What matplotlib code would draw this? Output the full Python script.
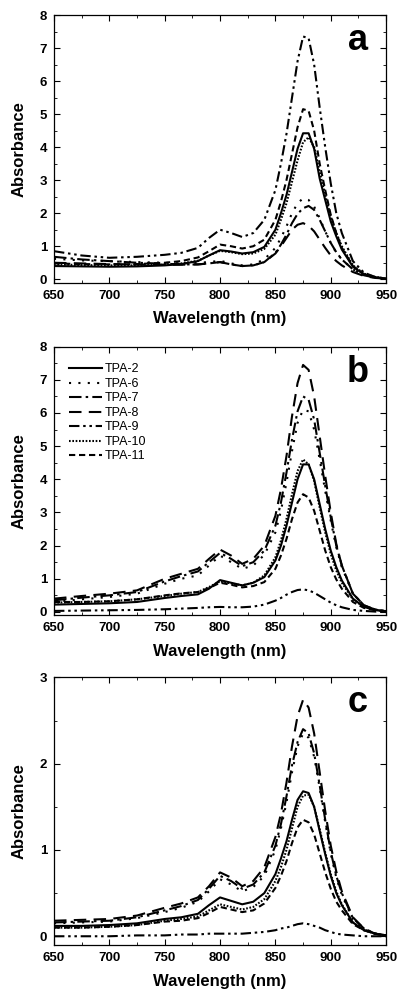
import matplotlib
matplotlib.use("Agg")
import matplotlib.pyplot as plt
from matplotlib.ticker import MultipleLocator

plt.rcParams.update({
    "font.family": ["Liberation Sans", "DejaVu Sans"],
    "font.size": 9,
    "xtick.direction": "in",
    "ytick.direction": "in",
    "xtick.top": True,
    "ytick.right": True,
    "xtick.major.size": 4,
    "ytick.major.size": 4,
    "xtick.minor.size": 2,
    "ytick.minor.size": 2,
    "axes.linewidth": 0.9,
})

wavelength = [650, 675, 700, 725, 750, 765, 780, 790, 800, 810, 820, 830, 840, 850, 855,
              860, 865, 870, 875, 880, 885, 890, 895, 900, 905, 910, 920, 930, 940, 950]

labels = ["TPA-2", "TPA-6", "TPA-7", "TPA-8", "TPA-9", "TPA-10", "TPA-11"]

# panel a
a_tpa2 = [0.40, 0.39, 0.38, 0.39, 0.42, 0.46, 0.55, 0.72, 0.88, 0.84, 0.78, 0.82, 0.98, 1.5, 2.0,
          2.55, 3.25, 3.95, 4.42, 4.42, 3.95, 3.05, 2.4, 1.75, 1.3, 0.9, 0.38, 0.15, 0.06, 0.02]
a_tpa6 = [0.62, 0.57, 0.55, 0.52, 0.5, 0.48, 0.5, 0.52, 0.56, 0.48, 0.42, 0.45, 0.6, 0.95, 1.25,
          1.6, 2.0, 2.3, 2.45, 2.4, 2.2, 1.85, 1.45, 1.1, 0.8, 0.6, 0.3, 0.12, 0.05, 0.02]
a_tpa7 = [0.68, 0.6, 0.55, 0.5, 0.47, 0.45, 0.45, 0.48, 0.52, 0.45, 0.4, 0.42, 0.52, 0.8, 1.05,
          1.35, 1.7, 1.98, 2.15, 2.22, 2.1, 1.8, 1.45, 1.1, 0.82, 0.6, 0.3, 0.12, 0.05, 0.02]
a_tpa8 = [0.5, 0.48, 0.46, 0.45, 0.44, 0.44, 0.45, 0.48, 0.52, 0.45, 0.4, 0.42, 0.52, 0.78, 1.0,
          1.25, 1.5, 1.65, 1.7, 1.62, 1.45, 1.2, 0.95, 0.72, 0.55, 0.42, 0.22, 0.1, 0.04, 0.02]
a_tpa9 = [0.85, 0.72, 0.65, 0.68, 0.74, 0.8, 0.95, 1.25, 1.5, 1.4, 1.28, 1.4, 1.8, 2.7, 3.5,
          4.4, 5.5, 6.6, 7.35, 7.3, 6.5, 5.2, 4.0, 2.9, 2.0, 1.4, 0.55, 0.2, 0.07, 0.02]
a_tpa10 = [0.45, 0.43, 0.42, 0.42, 0.44, 0.48, 0.56, 0.72, 0.86, 0.82, 0.76, 0.78, 0.92, 1.35, 1.8,
           2.3, 2.95, 3.6, 4.15, 4.3, 4.0, 3.25, 2.55, 1.9, 1.4, 1.0, 0.42, 0.17, 0.07, 0.02]
a_tpa11 = [0.48, 0.46, 0.45, 0.46, 0.5, 0.55, 0.66, 0.85, 1.05, 1.0, 0.93, 1.0, 1.2, 1.8, 2.35,
           3.0, 3.8, 4.6, 5.15, 5.1, 4.5, 3.5, 2.7, 1.95, 1.4, 0.95, 0.4, 0.15, 0.06, 0.02]

# panel b
b_tpa2 = [0.22, 0.24, 0.26, 0.3, 0.42, 0.48, 0.53, 0.7, 0.96, 0.88, 0.8, 0.88, 1.05, 1.55, 2.0,
          2.6, 3.3, 4.0, 4.45, 4.45, 4.0, 3.25, 2.5, 1.85, 1.35, 0.95, 0.4, 0.15, 0.06, 0.02]
b_tpa6 = [0.3, 0.38, 0.45, 0.55, 0.85, 1.0, 1.1, 1.4, 1.7, 1.5, 1.3, 1.4, 1.72, 2.4, 3.05,
          3.9, 4.85, 5.7, 6.1, 6.05, 5.5, 4.6, 3.65, 2.75, 1.95, 1.35, 0.55, 0.2, 0.07, 0.02]
b_tpa7 = [0.35, 0.43, 0.5, 0.6, 0.92, 1.08, 1.22, 1.5, 1.78, 1.6, 1.38, 1.5, 1.85, 2.6, 3.3,
          4.2, 5.2, 6.05, 6.5, 6.4, 5.8, 4.8, 3.8, 2.85, 2.0, 1.4, 0.55, 0.2, 0.07, 0.02]
b_tpa8 = [0.40, 0.48, 0.55, 0.65, 1.0, 1.15, 1.3, 1.6, 1.88, 1.7, 1.45, 1.6, 2.0, 2.9, 3.7,
          4.7, 5.9, 6.9, 7.45, 7.3, 6.5, 5.3, 4.1, 3.0, 2.05, 1.4, 0.55, 0.2, 0.07, 0.02]
b_tpa9 = [0.03, 0.04, 0.05, 0.06, 0.08, 0.1, 0.12, 0.14, 0.15, 0.14, 0.14, 0.16, 0.22, 0.34, 0.42,
          0.52, 0.6, 0.66, 0.68, 0.65, 0.58, 0.48, 0.38, 0.28, 0.2, 0.14, 0.06, 0.03, 0.01, 0.0]
b_tpa10 = [0.28, 0.3, 0.32, 0.38, 0.48, 0.55, 0.6, 0.75, 0.92, 0.86, 0.8, 0.88, 1.1, 1.65, 2.15,
           2.8, 3.55, 4.25, 4.6, 4.45, 3.95, 3.15, 2.4, 1.75, 1.25, 0.88, 0.38, 0.15, 0.06, 0.02]
b_tpa11 = [0.3, 0.3, 0.32, 0.38, 0.5, 0.56, 0.6, 0.72, 0.88, 0.82, 0.74, 0.78, 0.9, 1.3, 1.7,
           2.2, 2.8, 3.3, 3.55, 3.45, 3.05, 2.45, 1.85, 1.35, 0.98, 0.7, 0.3, 0.12, 0.05, 0.02]

# panel c
c_tpa2 = [0.12, 0.12, 0.13, 0.15, 0.2, 0.22, 0.26, 0.36, 0.45, 0.41, 0.37, 0.4, 0.5, 0.72, 0.9,
          1.1, 1.35, 1.58, 1.68, 1.66, 1.5, 1.22, 0.95, 0.7, 0.5, 0.36, 0.16, 0.07, 0.03, 0.01]
c_tpa6 = [0.15, 0.16, 0.17, 0.21, 0.28, 0.33, 0.4, 0.52, 0.66, 0.6, 0.52, 0.57, 0.7, 1.0, 1.25,
          1.55, 1.9, 2.2, 2.35, 2.3, 2.08, 1.72, 1.32, 0.96, 0.68, 0.48, 0.2, 0.08, 0.03, 0.01]
c_tpa7 = [0.16, 0.17, 0.18, 0.22, 0.3, 0.35, 0.42, 0.55, 0.7, 0.64, 0.55, 0.6, 0.74, 1.05, 1.3,
          1.62, 1.98, 2.25, 2.4, 2.35, 2.12, 1.75, 1.35, 0.98, 0.7, 0.5, 0.21, 0.09, 0.03, 0.01]
c_tpa8 = [0.18, 0.19, 0.2, 0.24, 0.33, 0.38, 0.45, 0.58, 0.74, 0.68, 0.58, 0.64, 0.8, 1.15, 1.42,
          1.78, 2.2, 2.55, 2.74, 2.65, 2.35, 1.9, 1.45, 1.05, 0.75, 0.52, 0.22, 0.09, 0.03, 0.01]
c_tpa9 = [0.0, 0.0, 0.0, 0.01, 0.01, 0.02, 0.02, 0.03, 0.03, 0.03, 0.03, 0.04, 0.05, 0.07, 0.09,
          0.1, 0.12, 0.14, 0.15, 0.14, 0.12, 0.1, 0.07, 0.05, 0.03, 0.02, 0.01, 0.0, 0.0, 0.0]
c_tpa10 = [0.1, 0.1, 0.11, 0.13, 0.18, 0.2, 0.23, 0.3, 0.37, 0.34, 0.31, 0.34, 0.43, 0.64, 0.8,
           1.0, 1.25, 1.5, 1.63, 1.64, 1.5, 1.24, 0.97, 0.72, 0.52, 0.37, 0.16, 0.07, 0.03, 0.01]
c_tpa11 = [0.1, 0.1, 0.11, 0.13, 0.17, 0.18, 0.21, 0.27, 0.34, 0.31, 0.28, 0.3, 0.38, 0.56, 0.7,
           0.87, 1.08, 1.26, 1.35, 1.32, 1.18, 0.96, 0.74, 0.55, 0.4, 0.3, 0.14, 0.07, 0.03, 0.01]

styles = {
    "TPA-2": "-",
    "TPA-6": (0, (1, 3.5)),
    "TPA-7": (0, (6, 2, 1.2, 2)),
    "TPA-8": (0, (6, 3.5)),
    "TPA-9": (0, (5, 1.8, 1.2, 1.8, 1.2, 1.8)),
    "TPA-10": (0, (0.8, 0.8)),
    "TPA-11": (0, (3, 1.8)),
}

panels = [
    ("a", [a_tpa2, a_tpa6, a_tpa7, a_tpa8, a_tpa9, a_tpa10, a_tpa11], (-0.1, 8), 1),
    ("b", [b_tpa2, b_tpa6, b_tpa7, b_tpa8, b_tpa9, b_tpa10, b_tpa11], (-0.1, 8), 1),
    ("c", [c_tpa2, c_tpa6, c_tpa7, c_tpa8, c_tpa9, c_tpa10, c_tpa11], (-0.1, 3), 1),
]

fig = plt.figure(figsize=(4.06, 10.02), dpi=100)
boxes = [(0.133, 0.718, 0.818, 0.267),
         (0.133, 0.386, 0.818, 0.268),
         (0.133, 0.057, 0.818, 0.267)]

for (letter, series, ylim, ystep), box in zip(panels, boxes):
    ax = fig.add_axes(box)
    for name, vals in zip(labels, series):
        ax.plot(wavelength, vals, color="black", linewidth=1.5,
                linestyle=styles[name], label=name)
    ax.set_xlim(650, 950)
    ax.set_ylim(*ylim)
    ax.xaxis.set_major_locator(MultipleLocator(50))
    ax.xaxis.set_minor_locator(MultipleLocator(25))
    ax.yaxis.set_major_locator(MultipleLocator(ystep))
    ax.yaxis.set_minor_locator(MultipleLocator(ystep / 2))
    ax.tick_params(labelsize=9.5, pad=5)
    for lab in ax.get_xticklabels() + ax.get_yticklabels():
        lab.set_fontweight("bold")
    ax.set_xlabel("Wavelength (nm)", fontsize=12, fontweight="bold", labelpad=7)
    ax.set_ylabel("Absorbance", fontsize=12, fontweight="bold", labelpad=9)
    ax.text(0.915, 0.905, letter, transform=ax.transAxes, fontsize=26,
            fontweight="bold", ha="center", va="center")
    if letter == "b":
        ax.legend(loc="upper left", frameon=False, fontsize=9, handlelength=2.6,
                  handletextpad=0.2, labelspacing=0.2, borderaxespad=0.3,
                  bbox_to_anchor=(0.02, 0.97))

fig.savefig("out.png", dpi=100)
